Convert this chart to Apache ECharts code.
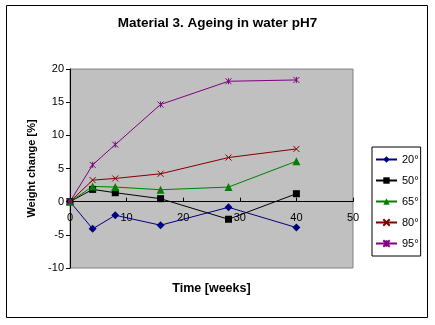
<!DOCTYPE html>
<html>
<head>
<meta charset="utf-8">
<script src="https://cdn.jsdelivr.net/npm/echarts@6/dist/echarts.min.js"></script>
<style>
  html, body { margin: 0; padding: 0; background: #fff; }
  #chart { width: 435px; height: 325px; }
</style>
</head>
<body>
<div id="chart"></div>
<script>
// Exposure times (weeks)
const weeks = [0, 4, 8, 16, 28, 40];

// Weight change [%] per ageing temperature
const t20 = [0, -4.1, -2.05, -3.55, -0.85, -3.9];
const t50 = [0, 1.85, 1.35, 0.45, -2.65, 1.2];
const t65 = [0, 2.3, 2.2, 1.8, 2.2, 6.1];
const t80 = [0, 3.25, 3.5, 4.2, 6.65, 7.95];
const t95 = [0, 5.55, 8.6, 14.65, 18.15, 18.35];

const seriesNames = ['20°', '50°', '65°', '80°', '95°'];

const FONT = '"Liberation Sans", Arial, sans-serif';

const crossPath = 'path://M0,0 L10,10 M10,0 L0,10';
const starPath = 'path://M0,0 L10,10 M10,0 L0,10 M5,0 L5,10';

// Plot box (pixels) and value range of the weight axis
const GRID_TOP = 69, GRID_BOTTOM = 57, CHART_H = 325;
const Y_MIN = -10, Y_MAX = 20;
// Lift the time axis so it sits on the zero line of the weight axis
const plotH = CHART_H - GRID_TOP - GRID_BOTTOM;
const zeroLift = plotH * (0 - Y_MIN) / (Y_MAX - Y_MIN);

function pairs(values) {
  return weeks.map((w, i) => [w, values[i]]);
}

function lineSeries(name, values, color, symbol, size, hollow) {
  return {
    name: name,
    type: 'line',
    data: pairs(values),
    symbol: symbol,
    symbolSize: size,
    showSymbol: true,
    lineStyle: { color: color, width: 1 },
    itemStyle: hollow
      ? { color: 'rgba(0,0,0,0)', borderColor: color, borderWidth: 1 }
      : { color: color, borderColor: color, borderWidth: 0 },
    emphasis: { disabled: true },
    animation: false
  };
}

const chart = echarts.init(document.getElementById('chart'), null, { renderer: 'canvas' });

chart.setOption({
  backgroundColor: '#ffffff',
  animation: false,
  textStyle: { fontFamily: FONT },
  title: {
    text: 'Material 3. Ageing in water pH7',
    left: 'center',
    top: 11,
    textStyle: { fontFamily: FONT, fontSize: 13.5, fontWeight: 'bold', color: '#000' }
  },
  graphic: [{
    type: 'rect',
    shape: { x: 6.5, y: 5.5, width: 421, height: 312 },
    style: { fill: 'none', stroke: '#000', lineWidth: 1 },
    z: -1
  }],
  grid: {
    left: 70,
    top: GRID_TOP,
    right: 82,
    bottom: GRID_BOTTOM,
    containLabel: false,
    outerBoundsMode: 'none',
    show: true,
    backgroundColor: '#c0c0c0',
    borderColor: '#808080',
    borderWidth: 1
  },
  legend: {
    orient: 'vertical',
    left: 372,
    top: 147,
    padding: [7, 2, 7, 3],
    itemWidth: 21,
    itemHeight: 8,
    itemGap: 10,
    backgroundColor: '#ffffff',
    borderColor: '#000',
    borderWidth: 1,
    borderRadius: 0,
    selectedMode: false,
    data: seriesNames,
    textStyle: { fontFamily: FONT, fontSize: 11, color: '#000' }
  },
  xAxis: {
    type: 'value',
    min: 0,
    max: 50,
    interval: 10,
    offset: -zeroLift,
    name: 'Time [weeks]',
    nameLocation: 'middle',
    nameGap: 80,
    nameTextStyle: { fontFamily: FONT, fontSize: 12.5, fontWeight: 'bold', color: '#000' },
    axisLine: { show: true, onZero: false, lineStyle: { color: '#000', width: 1 } },
    axisTick: { show: true, inside: true, length: 4, lineStyle: { color: '#000' } },
    axisLabel: { color: '#000', fontSize: 11, fontFamily: FONT, margin: 11 },
    splitLine: { show: false }
  },
  yAxis: {
    type: 'value',
    min: Y_MIN,
    max: Y_MAX,
    interval: 5,
    name: 'Weight change [%]',
    nameLocation: 'middle',
    nameGap: 29,
    nameRotate: 90,
    nameTextStyle: { fontFamily: FONT, fontSize: 11, fontWeight: 'bold', color: '#000' },
    axisLine: { show: true, onZero: false, lineStyle: { color: '#000', width: 1 } },
    axisTick: { show: true, inside: false, length: 4, lineStyle: { color: '#000' } },
    axisLabel: { color: '#000', fontSize: 11, fontFamily: FONT, margin: 6 },
    splitLine: { show: false }
  },
  series: [
    lineSeries('20°', t20, '#000080', 'diamond', 8, false),
    lineSeries('50°', t50, '#000000', 'rect', 7, false),
    lineSeries('65°', t65, '#008000', 'triangle', 8, false),
    lineSeries('80°', t80, '#800000', crossPath, 6, true),
    lineSeries('95°', t95, '#800080', starPath, 6, true)
  ]
});
</script>
</body>
</html>
